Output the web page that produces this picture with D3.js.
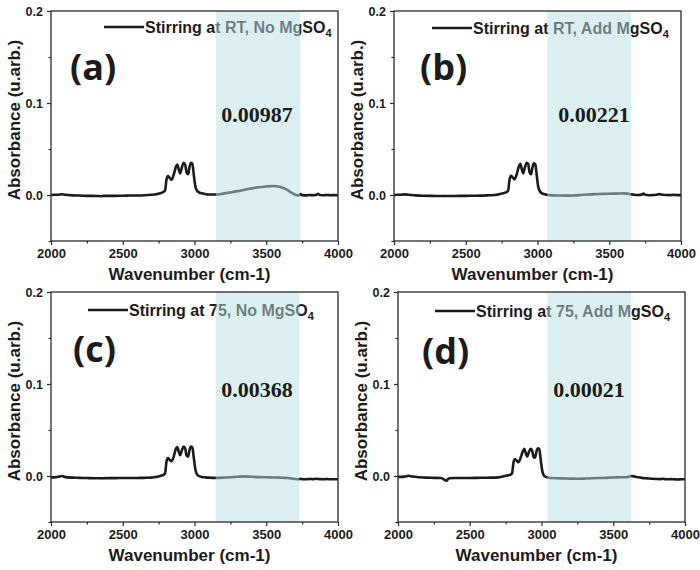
<!DOCTYPE html>
<html>
<head>
<meta charset="utf-8">
<script src="https://cdn.jsdelivr.net/npm/d3@7"></script>
<style>
  html, body { margin: 0; padding: 0; background: #fff; }
  svg { display: block; }
</style>
</head>
<body>
<svg id="chart" width="700" height="570"></svg>
<script>
// ---------------- DATA ----------------
const wavenumbers = [2000,2025,2050,2075,2100,2150,2200,2250,2300,2340,2350,2360,2400,2450,2500,2550,2600,2650,2700,2720,2740,2760,2780,2795,2805,2815,2825,2840,2855,2870,2880,2890,2900,2912,2925,2935,2945,2955,2965,2975,2985,2995,3005,3015,3030,3050,3075,3100,3150,3200,3250,3300,3350,3400,3450,3500,3550,3600,3625,3650,3675,3700,3725,3740,3750,3775,3800,3825,3850,3860,3875,3900,3925,3950,3975,4000];

const absorbanceA = [0.0000,0.0003,0.0002,0.0008,0.0002,-0.0004,-0.0006,-0.0009,-0.0010,-0.0011,-0.0014,-0.0010,-0.0010,-0.0009,-0.0008,-0.0006,-0.0005,-0.0002,0.0003,0.0006,0.0010,0.0020,0.0030,0.0050,0.0170,0.0205,0.0190,0.0165,0.0220,0.0305,0.0330,0.0280,0.0235,0.0300,0.0350,0.0330,0.0245,0.0225,0.0300,0.0350,0.0340,0.0220,0.0100,0.0055,0.0030,0.0018,0.0010,0.0005,0.0005,0.0015,0.0028,0.0042,0.0058,0.0072,0.0084,0.0092,0.0098,0.0088,0.0072,0.0052,0.0025,0.0005,-0.0006,0.0010,-0.0002,-0.0004,0.0000,-0.0003,0.0002,0.0012,0.0000,-0.0003,0.0000,-0.0002,-0.0001,-0.0002];

const absorbanceB = [0.0000,0.0002,0.0003,0.0007,0.0002,-0.0004,-0.0008,-0.0010,-0.0011,-0.0011,-0.0012,-0.0011,-0.0011,-0.0010,-0.0010,-0.0008,-0.0007,-0.0004,0.0000,0.0004,0.0010,0.0020,0.0028,0.0045,0.0165,0.0210,0.0195,0.0170,0.0225,0.0310,0.0340,0.0285,0.0235,0.0300,0.0350,0.0335,0.0245,0.0225,0.0300,0.0345,0.0330,0.0210,0.0090,0.0045,0.0020,0.0008,0.0000,-0.0004,-0.0006,-0.0007,-0.0005,0.0000,0.0006,0.0010,0.0012,0.0014,0.0015,0.0018,0.0015,0.0008,0.0002,0.0000,0.0004,0.0016,0.0002,-0.0002,-0.0001,0.0002,0.0010,0.0006,0.0002,0.0000,-0.0001,0.0001,-0.0001,-0.0001];

const absorbanceC = [-0.0015,-0.0015,-0.0008,0.0000,-0.0012,-0.0018,-0.0020,-0.0022,-0.0024,-0.0024,-0.0026,-0.0024,-0.0023,-0.0023,-0.0022,-0.0022,-0.0021,-0.0020,-0.0018,-0.0014,-0.0008,0.0000,0.0010,0.0030,0.0160,0.0195,0.0180,0.0160,0.0210,0.0295,0.0315,0.0265,0.0225,0.0280,0.0320,0.0300,0.0220,0.0210,0.0280,0.0320,0.0310,0.0200,0.0080,0.0025,0.0000,-0.0010,-0.0015,-0.0018,-0.0020,-0.0018,-0.0014,-0.0008,-0.0004,-0.0008,-0.0012,-0.0014,-0.0016,-0.0018,-0.0020,-0.0022,-0.0026,-0.0032,-0.0036,-0.0030,-0.0034,-0.0036,-0.0032,-0.0034,-0.0030,-0.0032,-0.0034,-0.0035,-0.0033,-0.0036,-0.0035,-0.0036];

const absorbanceD = [-0.0010,-0.0010,-0.0005,0.0002,-0.0006,-0.0014,-0.0018,-0.0020,-0.0022,-0.0050,-0.0030,-0.0024,-0.0022,-0.0021,-0.0021,-0.0020,-0.0019,-0.0018,-0.0015,-0.0008,0.0000,0.0005,0.0012,0.0030,0.0150,0.0185,0.0170,0.0150,0.0200,0.0270,0.0295,0.0250,0.0210,0.0260,0.0295,0.0275,0.0205,0.0200,0.0265,0.0300,0.0290,0.0170,0.0060,0.0010,-0.0010,-0.0018,-0.0022,-0.0024,-0.0026,-0.0028,-0.0030,-0.0028,-0.0025,-0.0022,-0.0020,-0.0016,-0.0014,-0.0010,0.0000,-0.0006,-0.0014,-0.0020,-0.0024,-0.0026,-0.0028,-0.0030,-0.0032,-0.0034,-0.0030,-0.0034,-0.0036,-0.0034,-0.0036,-0.0038,-0.0036,-0.0036];

const panelLetters = ["(a)", "(b)", "(c)", "(d)"];
const legendTexts = ["Stirring at RT, No MgSO", "Stirring at RT, Add MgSO", "Stirring at 75, No MgSO", "Stirring at 75, Add MgSO"];
const legendSubscript = "4";
const areaValues = ["0.00987", "0.00221", "0.00368", "0.00021"];
const bandStart = [3150, 3068, 3148, 3041];
const bandEnd = [3735, 3652, 3730, 3625];
const xTicks = [2000, 2500, 3000, 3500, 4000];
const xMinorTicks = [2250, 2750, 3250, 3750];
const yTicks = [0.0, 0.1, 0.2];
const yMinorTicks = [-0.05, 0.05, 0.15];
const xDomain = [2000, 4000];
const yDomain = [-0.05, 0.2];
const xTitle = "Wavenumber (cm-1)";
const yTitle = "Absorbance (u.arb.)";

// ---------------- LAYOUT ----------------
const layout = [
  { left: 51,  right: 338, top: 11,  bottom: 241, legendX: 104, legendY: 27,  letterDX: 19, letterY: 69, valueX: 257, valueY: 111 },
  { left: 394, right: 681, top: 11,  bottom: 241, legendX: 432, legendY: 28,  letterDX: 26, letterY: 69, valueX: 594, valueY: 111 },
  { left: 51,  right: 338, top: 292, bottom: 522, legendX: 88,  legendY: 310, letterDX: 22, letterY: 70, valueX: 257, valueY: 105 },
  { left: 398, right: 685, top: 292, bottom: 522, legendX: 435, legendY: 311, letterDX: 24, letterY: 72, valueX: 589, valueY: 105 }
];

const series = [absorbanceA, absorbanceB, absorbanceC, absorbanceD];
const svg = d3.select("#chart");
const sansBold = "'Liberation Sans', Arial, sans-serif";

series.forEach((vals, i) => {
  const L = layout[i];
  const x = d3.scaleLinear().domain(xDomain).range([L.left, L.right]);
  const y = d3.scaleLinear().domain(yDomain).range([L.bottom, L.top]);
  const g = svg.append("g");

  // spectrum
  const pts = wavenumbers.map((w, k) => [w, vals[k]]);
  const line = d3.line().x(d => x(d[0])).y(d => y(d[1])).curve(d3.curveMonotoneX);
  g.append("path").datum(pts).attr("d", line)
    .attr("fill", "none").attr("stroke", "#1b1b1b").attr("stroke-width", 2.6)
    .attr("stroke-linejoin", "round");

  // legend
  g.append("line")
    .attr("x1", L.legendX).attr("x2", L.legendX + 40)
    .attr("y1", L.legendY).attr("y2", L.legendY)
    .attr("stroke", "#1b1b1b").attr("stroke-width", 2.6);
  const lt = g.append("text")
    .attr("x", L.legendX + 41).attr("y", L.legendY + 5.5)
    .attr("font-family", sansBold).attr("font-weight", "bold")
    .attr("font-size", 16).attr("fill", "#1b1b1b");
  lt.append("tspan").text(legendTexts[i]);
  lt.append("tspan").attr("font-size", 11).attr("dy", 4).text(legendSubscript);

  // panel letter
  g.append("text")
    .attr("x", L.left + L.letterDX).attr("y", L.top + L.letterY)
    .attr("font-family", "'Open Sans', sans-serif").attr("font-weight", 700)
    .attr("font-size", 36).attr("fill", "#1b1b1b")
    .text(panelLetters[i]);

  // shaded band (on top, translucent)
  g.append("rect")
    .attr("x", x(bandStart[i])).attr("width", x(bandEnd[i]) - x(bandStart[i]))
    .attr("y", L.top).attr("height", L.bottom - L.top)
    .attr("fill", "rgb(185,225,228)").attr("fill-opacity", 0.5);

  // area value (drawn above the band)
  g.append("text")
    .attr("x", L.valueX).attr("y", L.top + L.valueY)
    .attr("text-anchor", "middle")
    .attr("font-family", "'Liberation Serif', 'Times New Roman', serif").attr("font-weight", "bold")
    .attr("font-size", 22).attr("fill", "#1b1b1b")
    .text(areaValues[i]);

  // frame
  g.append("rect")
    .attr("x", L.left).attr("y", L.top)
    .attr("width", L.right - L.left).attr("height", L.bottom - L.top)
    .attr("fill", "none").attr("stroke", "#2a2a2a").attr("stroke-width", 1.3);

  // x axis
  const xAxis = d3.axisBottom(x).tickValues(xTicks).tickSize(4).tickPadding(4).tickFormat(d3.format("d"));
  const xa = g.append("g").attr("transform", `translate(0,${L.bottom})`).call(xAxis);
  const xm = g.append("g").attr("transform", `translate(0,${L.bottom})`)
    .call(d3.axisBottom(x).tickValues(xMinorTicks).tickSize(2.5).tickFormat(""));
  xm.select(".domain").remove();
  xa.select(".domain").remove();
  xa.selectAll("text").attr("font-family", sansBold).attr("font-weight", "bold")
    .attr("font-size", 13).attr("fill", "#1b1b1b");
  [xa, xm].forEach(a => a.selectAll("line").attr("stroke", "#2a2a2a").attr("stroke-width", 1.2));

  // y axis
  const yAxis = d3.axisLeft(y).tickValues(yTicks).tickSize(4).tickPadding(4).tickFormat(d3.format(".1f"));
  const ya = g.append("g").attr("transform", `translate(${L.left},0)`).call(yAxis);
  const ym = g.append("g").attr("transform", `translate(${L.left},0)`)
    .call(d3.axisLeft(y).tickValues(yMinorTicks).tickSize(2.5).tickFormat(""));
  ym.select(".domain").remove();
  ya.select(".domain").remove();
  ya.selectAll("text").attr("font-family", sansBold).attr("font-weight", "bold")
    .attr("font-size", 12.5).attr("fill", "#1b1b1b");
  [ya, ym].forEach(a => a.selectAll("line").attr("stroke", "#2a2a2a").attr("stroke-width", 1.2));

  // axis titles
  g.append("text")
    .attr("x", (L.left + L.right) / 2 - 5).attr("y", L.bottom + 39)
    .attr("text-anchor", "middle")
    .attr("font-family", sansBold).attr("font-weight", "bold")
    .attr("font-size", 17).attr("fill", "#1b1b1b")
    .text(xTitle);
  g.append("text")
    .attr("transform", `translate(${L.left - 31},${(L.top + L.bottom) / 2 - 6}) rotate(-90)`)
    .attr("text-anchor", "middle")
    .attr("font-family", sansBold).attr("font-weight", "bold")
    .attr("font-size", 17).attr("fill", "#1b1b1b")
    .text(yTitle);
});
</script>
</body>
</html>
